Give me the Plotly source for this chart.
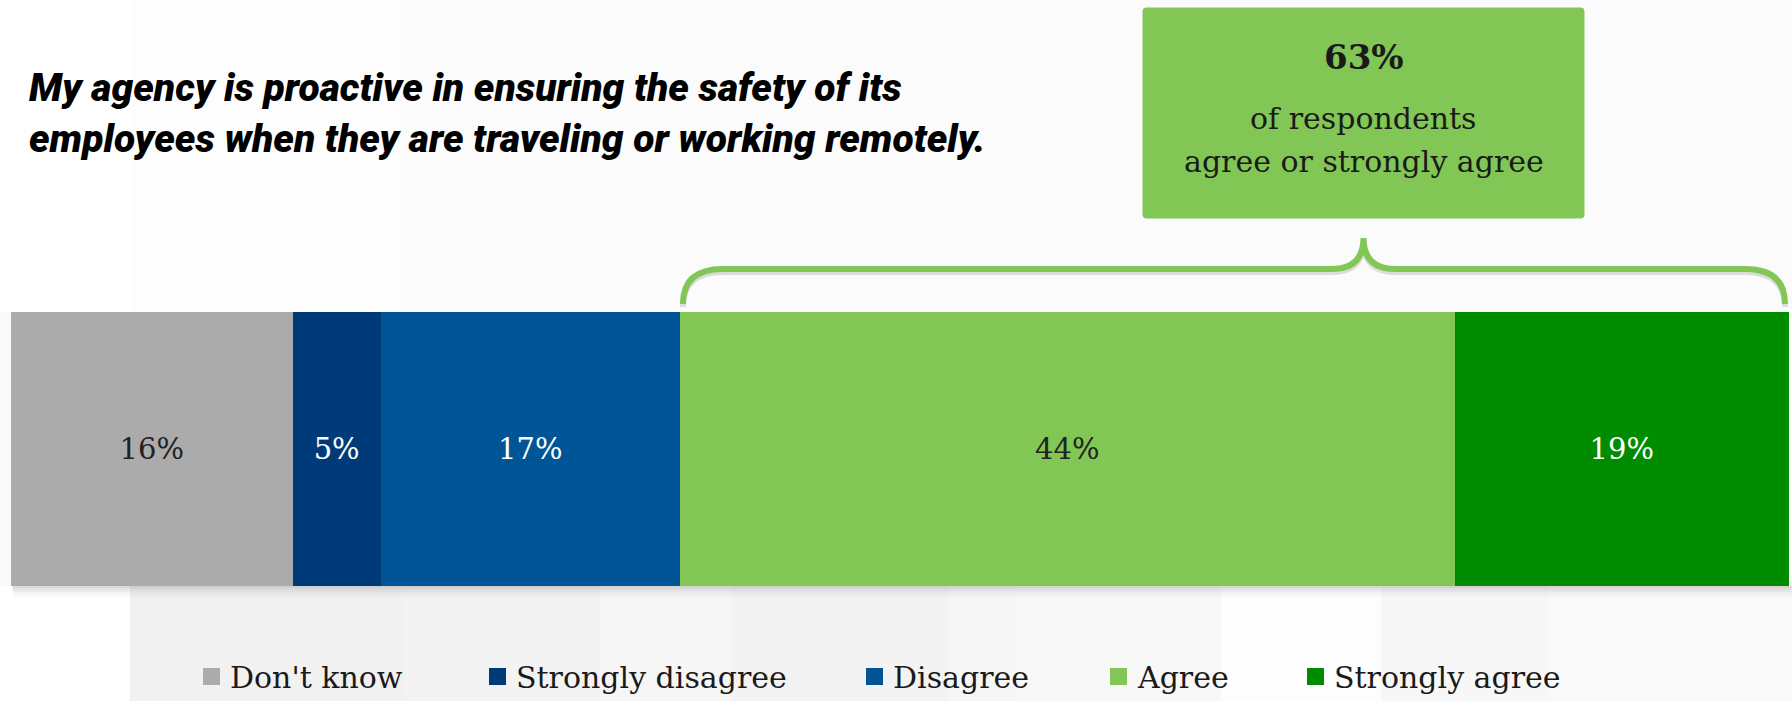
import plotly.graph_objects as go

# Survey responses (percent of respondents)
categories = ["Don't know", "Strongly disagree", "Disagree", "Agree", "Strongly agree"]
values = [16, 5, 17, 44, 19]
bar_colors = ["#ABABAB", "#003A78", "#005596", "#82C755", "#008C00"]
label_colors = ["#222222", "#FFFFFF", "#FFFFFF", "#222222", "#FFFFFF"]

title_lines = [
    "My agency is proactive in ensuring the safety of its",
    "employees when they are traveling or working remotely.",
]
agree_share = values[3] + values[4]
callout_sub = ["of respondents", "agree or strongly agree"]

W, H = 1792, 701
SERIF = "DejaVu Serif, Georgia, serif"

total = sum(values)
ppu = (1789 - 11) / total          # pixels per percentage point
x_range = [-11 / ppu, total + 3 / ppu]

fig = go.Figure()

for cat, v, col, tcol in zip(categories, values, bar_colors, label_colors):
    fig.add_trace(go.Bar(
        x=[v], y=[449], orientation="h", width=274,
        name=cat, marker=dict(color=col, line=dict(width=0)),
        text=[f"{v}%"], textposition="inside", insidetextanchor="middle",
        textangle=0, textfont=dict(family=SERIF, size=29, color=tcol),
        hoverinfo="skip", showlegend=False,
    ))

shapes = []

# soft vertical background bands
bands = [(0, 130, "#ffffff"), (130, 406, "#f1f1f1"), (406, 600, "#f3f3f3"),
         (600, 731, "#f6f6f6"), (731, 949, "#f3f3f3"), (949, 1017, "#f6f6f6"),
         (1017, 1221, "#f8f8f8"), (1221, 1381, "#fdfdfd"), (1381, 1548, "#f7f7f7"),
         (1548, 1792, "#f9f9f9")]
for x0, x1, c in bands:
    shapes.append(dict(type="rect", xref="paper", yref="y", x0=x0 / W, x1=x1 / W,
                       y0=586, y1=701, fillcolor=c, line_width=0, layer="below"))
top_bands = [(0, 130, "#ffffff"), (130, 400, "#fdfdfd"), (400, 1792, "#fbfbfb")]
for x0, x1, c in top_bands:
    shapes.append(dict(type="rect", xref="paper", yref="y", x0=x0 / W, x1=x1 / W,
                       y0=0, y1=312, fillcolor=c, line_width=0, layer="below"))

# drop shadow under the bar
for i, op in enumerate([0.22, 0.16, 0.11, 0.07, 0.04, 0.02]):
    shapes.append(dict(type="rect", xref="x", yref="y", x0=0.1, x1=total + 0.15,
                       y0=586 + i * 2, y1=588 + i * 2, fillcolor="#555555",
                       opacity=op, line_width=0, layer="below"))

# callout box (slightly rounded corners)
box_x0, box_x1, box_y0, box_y1 = 1143, 1584, 8, 218
rc = 3
bx0p, bx1p = box_x0 / W, box_x1 / W
rcx = rc / W
box_path = (f"M {bx0p + rcx},{box_y0} L {bx1p - rcx},{box_y0} Q {bx1p},{box_y0} {bx1p},{box_y0 + rc} "
            f"L {bx1p},{box_y1 - rc} Q {bx1p},{box_y1} {bx1p - rcx},{box_y1} "
            f"L {bx0p + rcx},{box_y1} Q {bx0p},{box_y1} {bx0p},{box_y1 - rc} "
            f"L {bx0p},{box_y0 + rc} Q {bx0p},{box_y0} {bx0p + rcx},{box_y0} Z")
shapes.append(dict(type="path", xref="paper", yref="y", path=box_path,
                   fillcolor="#82C755", line=dict(color="#82C755", width=1)))

# curly brace spanning Agree + Strongly agree
agree_start = sum(values[:3])
bx0 = agree_start + 3 / ppu
bx1 = total - 4 / ppu
tip = ((box_x0 + box_x1) / 2 - 11) / ppu
r = 40 / ppu
yb, yl, yt = 304, 269, 238


def brace_path(dy):
    a, b, c = yb + dy, yl + dy, yt + dy
    return (f"M {bx0},{a} Q {bx0},{b} {bx0 + r},{b} "
            f"L {tip - r * 0.8},{b} Q {tip},{b} {tip},{c} "
            f"Q {tip},{b} {tip + r * 0.8},{b} "
            f"L {bx1 - r},{b} Q {bx1},{b} {bx1},{a}")


shapes.append(dict(type="path", xref="x", yref="y", path=brace_path(3),
                   line=dict(color="rgba(0,0,0,0.12)", width=6)))
shapes.append(dict(type="path", xref="x", yref="y", path=brace_path(0),
                   line=dict(color="#82C755", width=6)))

annotations = []

# title (two lines in one text block)
annotations.append(dict(
    text="<br>".join(title_lines), xref="paper", yref="y", x=27 / W, y=113,
    xanchor="left", yanchor="middle", align="left", showarrow=False,
    font=dict(family="Roboto", size=39, color="#000000", weight=900, style="italic"),
))

# callout text
cx = (box_x0 + box_x1) / 2 / W
annotations.append(dict(text=f"<b>{agree_share}%</b>", xref="paper", yref="y", x=cx, y=57,
                        xanchor="center", yanchor="middle", showarrow=False,
                        font=dict(family=SERIF, size=34, color="#1a1a1a")))
for i, line in enumerate(callout_sub):
    annotations.append(dict(text=line, xref="paper", yref="y", x=cx, y=118 + i * 43,
                            xanchor="center", yanchor="middle", showarrow=False,
                            font=dict(family=SERIF, size=30, color="#1a1a1a")))

# legend
legend_x = [203, 489, 866, 1110, 1307]
for cat, col, lx in zip(categories, bar_colors, legend_x):
    shapes.append(dict(type="rect", xref="paper", yref="y", x0=lx / W, x1=(lx + 17) / W,
                       y0=668, y1=685, fillcolor=col, line_width=0))
    annotations.append(dict(text=cat, xref="paper", yref="y", x=(lx + 25) / W, y=677,
                            xanchor="left", yanchor="middle", showarrow=False,
                            font=dict(family=SERIF, size=30, color="#1a1a1a")))

fig.update_layout(
    width=W, height=H, barmode="stack",
    margin=dict(l=0, r=0, t=0, b=0),
    paper_bgcolor="#fafafa", plot_bgcolor="rgba(0,0,0,0)",
    xaxis=dict(range=x_range, visible=False, fixedrange=True),
    yaxis=dict(range=[H, 0], visible=False, fixedrange=True),
    shapes=shapes, annotations=annotations,
    uniformtext=dict(mode=False),
)

fig.write_html("out.html", config={"displayModeBar": False})
